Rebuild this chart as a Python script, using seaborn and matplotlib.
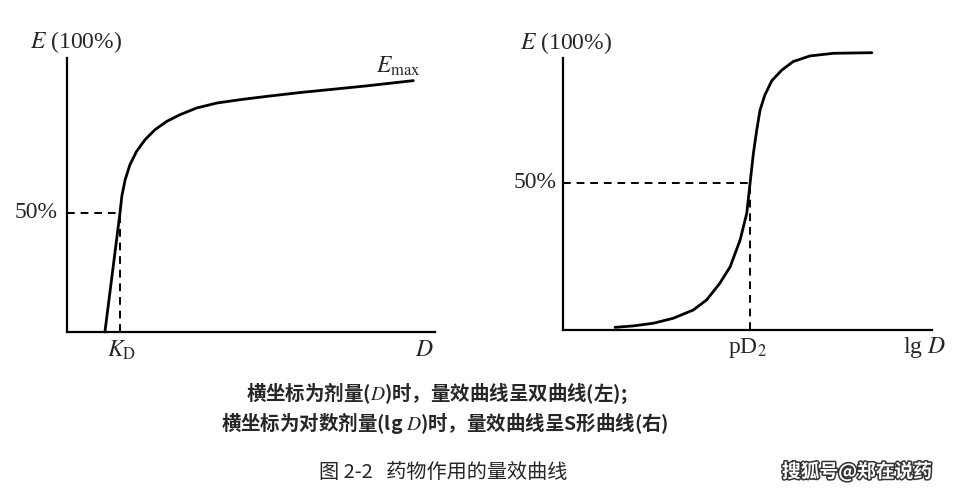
import matplotlib
matplotlib.use("Agg")
import matplotlib.pyplot as plt
import matplotlib.patheffects as pe
import seaborn as sns

sns.set_style("white")
plt.rcParams["font.family"] = ["Liberation Serif", "DejaVu Serif"]
plt.rcParams["mathtext.fontset"] = "stix"

# left panel: effect vs dose (hyperbola)
dose = [1.03, 1.44, 1.49, 1.58, 1.71, 1.89, 2.12, 2.39, 2.71, 3.07, 3.52, 4.07,
        4.70, 5.43, 6.33, 7.24, 8.14, 9.41]
effect_dose = [0, 50.0, 57.0, 63.9, 70.2, 75.8, 80.7, 84.9, 88.4, 91.2, 94.0, 96.1,
               97.5, 98.9, 100.5, 101.9, 103.3, 105.5]
kd = 1.44

# right panel: effect vs lg dose (S-shape)
lg_dose = [1.41, 1.91, 2.45, 2.99, 3.53, 3.89, 4.25, 4.53, 4.80, 4.98, 5.07, 5.16,
           5.25, 5.34, 5.47, 5.66, 5.93, 6.24, 6.69, 7.33, 8.37]
effect_lg = [0.9, 1.4, 2.3, 4.0, 6.8, 10.2, 15.9, 21.5, 30.6, 39.7, 50.0, 60.1,
             68.0, 74.8, 79.9, 84.8, 88.4, 91.3, 93.2, 94.1, 94.3]
pd2 = 5.07

W, H = 956, 500
fig = plt.figure(figsize=(W / 100, H / 100), dpi=100)


def px(x, y):
    return x / W, 1 - y / H


ax1 = fig.add_axes([67 / W, 1 - 332 / H, 368 / W, 274 / H])
ax2 = fig.add_axes([563 / W, 1 - 330 / H, 369 / W, 272 / H])

sns.lineplot(x=dose, y=effect_dose, ax=ax1, color="black", lw=2.0, sort=False, clip_on=False)
ax1.plot([0, kd], [50, 50], ls=(0, (4, 3)), color="black", lw=1.4)
ax1.plot([kd, kd], [0, 50], ls=(0, (4, 3)), color="black", lw=1.4)
ax1.set_xlim(0, 10)
ax1.set_ylim(0, 115)

sns.lineplot(x=lg_dose, y=effect_lg, ax=ax2, color="black", lw=2.0, sort=False, clip_on=False)
ax2.plot([0, pd2], [50, 50], ls=(0, (4, 3)), color="black", lw=1.4)
ax2.plot([pd2, pd2], [0, 50], ls=(0, (4, 3)), color="black", lw=1.4)
ax2.set_xlim(0, 10)
ax2.set_ylim(0, 92.5)

for ax in (ax1, ax2):
    for s in ("top", "right"):
        ax.spines[s].set_visible(False)
    for s in ("left", "bottom"):
        ax.spines[s].set_color("black")
        ax.spines[s].set_linewidth(1.6)
    ax.set_xticks([])
    ax.set_yticks([])
    ax.set_xlabel("")
    ax.set_ylabel("")
    ax.patch.set_alpha(0)

fs = 17
fig.text(*px(76, 42), r"$E$ (100%)", ha="center", va="center", fontsize=fs)
fig.text(*px(566, 43), r"$E$ (100%)", ha="center", va="center", fontsize=fs)
fig.text(*px(58, 213), "50%", ha="right", va="center", fontsize=fs)
fig.text(*px(557, 183), "50%", ha="right", va="center", fontsize=fs)
fig.text(*px(398, 66), r"$E_{\mathrm{max}}$", ha="center", va="center", fontsize=fs)
fig.text(*px(122, 350), r"$K_{\mathrm{D}}$", ha="center", va="center", fontsize=fs)
fig.text(*px(424, 350), r"$D$", ha="center", va="center", fontsize=fs)
fig.text(*px(748, 348), r"pD$_2$", ha="center", va="center", fontsize=fs)
fig.text(*px(924, 348), r"lg $D$", ha="center", va="center", fontsize=fs)

cjk = ["Noto Sans CJK SC", "DejaVu Sans"]
fig.text(*px(437, 393), r"横坐标为剂量($D$)时，量效曲线呈双曲线(左);", ha="center", va="center",
         fontsize=14, family=cjk, weight="bold")
fig.text(*px(445, 423), r"横坐标为对数剂量(lg $D$)时，量效曲线呈S形曲线(右)", ha="center", va="center",
         fontsize=14, family=cjk, weight="bold")
fig.text(*px(443, 472), "图 2-2   药物作用的量效曲线", ha="center", va="center",
         fontsize=14.5, family=cjk)
fig.text(*px(857, 472), "搜狐号@郑在说药", ha="center", va="center", fontsize=13.5,
         family=cjk, weight="bold", color="white",
         path_effects=[pe.withStroke(linewidth=2.2, foreground="#333333")])

fig.savefig("out.png", dpi=100)
